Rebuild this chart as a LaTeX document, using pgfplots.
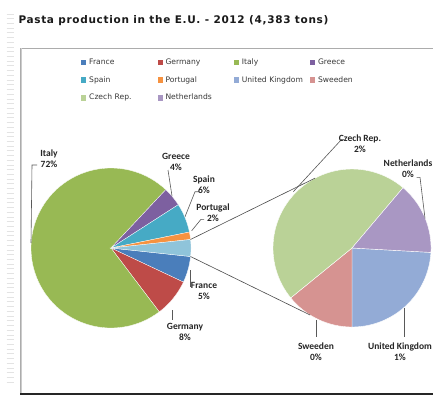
\documentclass[border=0pt]{standalone}
\usepackage{fontspec}
\setmainfont{DejaVu Sans}
\newfontfamily\carl{Carlito}
\usepackage{pgfplots}
\pgfplotsset{compat=1.18}
\definecolor{cFrance}{HTML}{4A7EBB}
\definecolor{cGermany}{HTML}{BE4B48}
\definecolor{cItaly}{HTML}{98B954}
\definecolor{cGreece}{HTML}{7D60A0}
\definecolor{cSpain}{HTML}{46AAC5}
\definecolor{cPortugal}{HTML}{F69240}
\definecolor{cOther}{HTML}{8FC4DA}
\definecolor{cUK}{HTML}{93ABD6}
\definecolor{cSweden}{HTML}{D69391}
\definecolor{cCzech}{HTML}{BAD297}
\definecolor{cNeth}{HTML}{A997C3}
\tikzset{lbl/.style={font=\carl\bfseries\fontsize{9.5}{11}\selectfont, align=center, inner sep=0pt, text=black!85},
  lead/.style={black!65, line width=0.6pt}}
% main pie: centre (111,149), radius 80; values in percent of 4,383 t
\newcommand{\mainslice}[4][]{\addplot[#1, fill=#2, draw=white, line width=0.3pt, domain=#3:#4, samples=80]
  ({111+80*cos(-6.12-3.6*x)},{149+80*sin(-6.12-3.6*x)}) -- (axis cs:111,149) -- cycle;}
% secondary pie: centre (352,149), radius 79; values in percent (sum 3.4)
\newcommand{\subslice}[3]{\addplot[fill=#1, draw=white, line width=0.4pt, domain=#2:#3, samples=60]
  ({352+79*cos(-3.2-105.882*x)},{149+79*sin(-3.2-105.882*x)}) -- (axis cs:352,149) -- cycle;}
\begin{document}
\begin{tikzpicture}
\useasboundingbox (0,0) rectangle (433pt,397pt);
\fill[white] (0,0) rectangle (433pt,397pt);
\foreach \i in {0,...,78} {\draw[gray!22, line width=0.9pt] (6.5pt,{383pt-\i*4.72pt}) -- (14pt,{383pt-\i*4.72pt});}
\draw[gray!65, line width=0.8pt] (20.5pt,4pt) -- (20.5pt,349pt) -- (440pt,349pt);
\draw[gray!40, line width=1pt] (21.7pt,4pt) -- (21.7pt,348.5pt);
\draw[black!85, line width=2.2pt] (20pt,3.4pt) -- (440pt,3.4pt);
\node[anchor=base west, font=\bfseries\fontsize{10.5}{12}\selectfont\addfontfeature{LetterSpace=6.5}, text=black!90, inner sep=0pt] at (18.3pt,373.7pt) {Pasta production in the E.U. - 2012 (4,383 tons)};
\begin{axis}[at={(0,0)}, anchor=south west, scale only axis, width=433pt, height=397pt,
  xmin=0, xmax=433, ymin=0, ymax=397, hide axis, clip=false,
  legend image code/.code={\fill[#1,draw=none] (0pt,-2.6pt) rectangle (5.2pt,2.6pt);},
  legend cell align=left,
  legend style={draw=none, fill=none, inner sep=0pt, at={(axis cs:81,338.5)}, anchor=north west,
    legend columns=4, font=\fontsize{7.6}{8}\selectfont, text=black!78,
    nodes={inner xsep=2.8pt, inner ysep=0pt, text width=60pt, text height=5.6pt, text depth=1.6pt},
    /tikz/every odd column/.append style={column sep=0pt},
    /tikz/every even column/.append style={column sep=5.5pt},
    row sep=10.6pt},
]
\mainslice{cFrance}{0}{5.3}\addlegendentry{France}
\mainslice{cGermany}{5.3}{13.0}\addlegendentry{Germany}
\mainslice{cItaly}{13.0}{85.3}\addlegendentry{Italy}
\mainslice{cGreece}{85.3}{89.2}\addlegendentry{Greece}
\mainslice{cSpain}{89.2}{95.1}\addlegendentry{Spain}
\mainslice{cPortugal}{95.1}{96.6}\addlegendentry{Portugal}
\mainslice[forget plot]{cOther}{96.6}{100}
\subslice{cUK}{0}{0.82}\addlegendentry{\mbox{United Kingdom}}
\subslice{cSweden}{0.82}{1.30}\addlegendentry{Sweeden}
\subslice{cCzech}{1.30}{2.90}\addlegendentry{Czech Rep.}
\subslice{cNeth}{2.90}{3.40}\addlegendentry{Netherlands}
% connector lines
\addplot[forget plot, black!70, line width=0.6pt] coordinates {(190.5,157.5) (314.9,218.8)};
\addplot[forget plot, black!70, line width=0.6pt] coordinates {(190.5,140.5) (310.1,82)};
% leader lines
\addplot[forget plot, lead] coordinates {(37,232) (32,232) (31,154)};
\addplot[forget plot, lead] coordinates {(168,227) (172,201)};
\addplot[forget plot, lead] coordinates {(199,205.3) (195,205.3) (185,180.3)};
\addplot[forget plot, lead] coordinates {(204,177.7) (201,177.7) (191.7,166.3)};
\addplot[forget plot, lead] coordinates {(190,127) (190,110.3)};
\addplot[forget plot, lead] coordinates {(172.3,87) (172.3,77)};
\addplot[forget plot, lead] coordinates {(344,257.7) (341.7,257.7) (293.3,205.3)};
\addplot[forget plot, lead] coordinates {(416.7,219.7) (420,219.7) (425,178.7)};
\addplot[forget plot, lead] coordinates {(404,88.7) (404,60.3)};
\addplot[forget plot, lead] coordinates {(316,77) (316,60.3)};
% data labels
\node[lbl] at (axis cs:49,238.5) {Italy\\72\%};
\node[lbl] at (axis cs:176,235.5) {Greece\\4\%};
\node[lbl] at (axis cs:204,212) {Spain\\6\%};
\node[lbl] at (axis cs:213,184.5) {Portugal\\2\%};
\node[lbl] at (axis cs:204,106.5) {France\\5\%};
\node[lbl] at (axis cs:185,65.5) {Germany\\8\%};
\node[lbl] at (axis cs:360,253.5) {Czech Rep.\\2\%};
\node[lbl] at (axis cs:408,228) {Netherlands\\0\%};
\node[lbl] at (axis cs:400,45) {United Kingdom\\1\%};
\node[lbl] at (axis cs:316,45) {Sweeden\\0\%};
\end{axis}
\end{tikzpicture}
\end{document}
